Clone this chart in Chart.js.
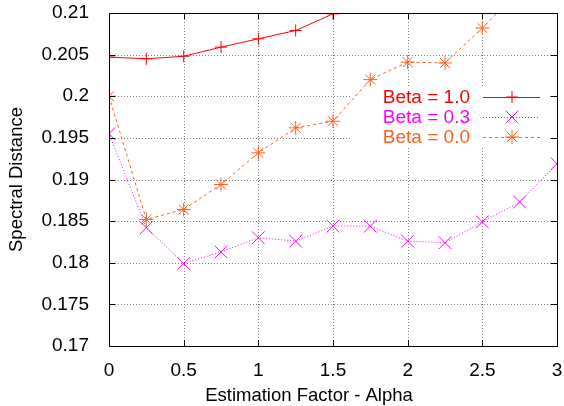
<!DOCTYPE html>
<html>
<head>
<meta charset="utf-8">
<script src="https://cdn.jsdelivr.net/npm/chart.js@4.4.0/dist/chart.umd.min.js"></script>
<style>
  html, body { margin: 0; padding: 0; background: #fff; }
  #wrap { width: 564px; height: 406px; }
</style>
</head>
<body>
<div id="wrap"><canvas id="specChart" width="564" height="406"></canvas></div>
<script>
// values
var alphaVals = [0, 0.25, 0.5, 0.75, 1, 1.25, 1.5, 1.75, 2, 2.25, 2.5, 2.75, 3]
var beta10 = [0.2047, 0.2045, 0.2048, 0.2059, 0.2069, 0.2079, 0.2099]
var beta03 = [0.1955, 0.1842, 0.1799, 0.1813, 0.1830, 0.1826, 0.1844, 0.1844, 0.1826, 0.1824, 0.1849, 0.1873, 0.1919]
var beta00 = [0.2000, 0.1852, 0.1864, 0.1894, 0.1932, 0.1962, 0.1970, 0.2020, 0.2041, 0.2040, 0.2082, 0.2128]
var seriesNames = ['Beta = 1.0', 'Beta = 0.3', 'Beta = 0.0']
var xTicks = [0, 0.5, 1, 1.5, 2, 2.5, 3]
var yTicks = [0.17, 0.175, 0.18, 0.185, 0.19, 0.195, 0.2, 0.205, 0.21]
var xTitle = 'Estimation Factor - Alpha'
var yTitle = 'Spectral Distance'

var FONT = '"Liberation Sans", Arial, Helvetica, sans-serif'

function pts(vals){
  var out = []
  for (var i = 0; i < vals.length; i++) out.push({x: alphaVals[i], y: vals[i]})
  return out
}

var styles = [
  {color: '#ff0000', dash: [], marker: 'cross', r: 6},
  {color: '#ff00ff', dash: [1, 2], marker: 'crossRot', r: 9},
  {color: '#ff6020', dash: [3, 3], marker: 'star', r: 7}
]
var allData = [beta10, beta03, beta00]

var datasets = []
for (var s = 0; s < 3; s++){
  datasets.push({
    label: seriesNames[s],
    data: pts(allData[s]),
    borderColor: styles[s].color,
    backgroundColor: styles[s].color,
    borderWidth: 1,
    borderDash: styles[s].dash,
    pointStyle: styles[s].marker,
    pointRadius: styles[s].r,
    pointBorderWidth: 1,
    pointBorderColor: styles[s].color,
    tension: 0,
    fill: false
  })
}

// dotted grid, white box behind the legend, frame, ticks, x title and legend
var gnuplotLook = {
  id: 'gnuplotLook',
  beforeDatasetsDraw: function(chart){
    var c = chart.ctx
    var a = chart.chartArea
    var xs = chart.scales.x, ys = chart.scales.y
    c.save()
    c.strokeStyle = '#808080'
    c.lineWidth = 1
    c.setLineDash([1, 2])
    c.beginPath()
    xTicks.forEach(function(t){
      var px = Math.round(xs.getPixelForValue(t)) + 0.5
      c.moveTo(px, a.top); c.lineTo(px, a.bottom)
    })
    yTicks.forEach(function(t){
      var py = Math.round(ys.getPixelForValue(t)) + 0.5
      c.moveTo(a.left, py); c.lineTo(a.right, py)
    })
    c.stroke()
    c.setLineDash([])
    c.fillStyle = '#fff'
    c.fillRect(350, 86, 198, 60)
    c.restore()
  },
  afterDraw: function(chart){
    var c = chart.ctx
    var a = chart.chartArea
    var xs = chart.scales.x, ys = chart.scales.y
    c.save()
    c.strokeStyle = '#000'
    c.lineWidth = 1
    c.setLineDash([])
    c.strokeRect(Math.round(a.left) + 0.5, Math.round(a.top) + 0.5, Math.round(a.right - a.left), Math.round(a.bottom - a.top))
    c.beginPath()
    xTicks.forEach(function(t){
      var px = Math.round(xs.getPixelForValue(t)) + 0.5
      c.moveTo(px, a.bottom); c.lineTo(px, a.bottom - 6)
      c.moveTo(px, a.top); c.lineTo(px, a.top + 6)
    })
    yTicks.forEach(function(t){
      var py = Math.round(ys.getPixelForValue(t)) + 0.5
      c.moveTo(a.left, py); c.lineTo(a.left + 6, py)
      c.moveTo(a.right, py); c.lineTo(a.right - 6, py)
    })
    c.stroke()
    // x title, a little left of the plot centre as in the original
    c.font = '18.5px ' + FONT
    c.fillStyle = '#000'
    c.textAlign = 'center'
    c.textBaseline = 'middle'
    c.fillText(xTitle, 309, 396)
    // legend
    c.font = '19px ' + FONT
    c.textAlign = 'right'
    for (var i = 0; i < 3; i++){
      var y = 97 + i * 20
      var st = styles[i]
      c.fillStyle = st.color
      c.fillText(seriesNames[i], 470, y + 1)
      c.strokeStyle = st.color
      c.lineWidth = 1
      c.setLineDash(st.dash)
      c.beginPath()
      c.moveTo(483, y + 0.5); c.lineTo(540, y + 0.5)
      c.stroke()
      c.setLineDash([])
      Chart.helpers.drawPoint(c, {pointStyle: st.marker, radius: st.r, borderWidth: 1}, 512, y)
    }
    c.restore()
  }
}

new Chart(document.getElementById('specChart'), {
  type: 'line',
  data: {datasets: datasets},
  options: {
    responsive: false,
    animation: false,
    layout: {autoPadding: false, padding: {top: 13, right: 7, left: 0, bottom: 0}},
    plugins: {legend: {display: false}, tooltip: {enabled: false}},
    scales: {
      x: {
        type: 'linear',
        min: 0, max: 3,
        afterFit: function(scale){ scale.height = 60; scale.paddingLeft = 0; scale.paddingRight = 0 },
        afterBuildTicks: function(scale){ scale.ticks = xTicks.map(function(v){ return {value: v} }) },
        ticks: {
          color: '#000', font: {family: FONT, size: 19}, padding: 5,
          maxRotation: 0, autoSkip: false,
          callback: function(v){ return String(+v.toFixed(2)) }
        },
        grid: {display: false},
        border: {display: false},
        title: {display: false}
      },
      y: {
        min: 0.17, max: 0.21,
        afterFit: function(scale){ scale.width = 109; scale.paddingTop = 0; scale.paddingBottom = 0 },
        afterBuildTicks: function(scale){ scale.ticks = yTicks.map(function(v){ return {value: v} }) },
        ticks: {
          color: '#000', font: {family: FONT, size: 19}, padding: 12,
          autoSkip: false,
          callback: function(v){ return String(+v.toFixed(3)) }
        },
        grid: {display: false},
        border: {display: false},
        title: {display: true, text: yTitle, color: '#000', font: {family: FONT, size: 18.5}, padding: {top: 6, bottom: 0}}
      }
    }
  },
  plugins: [gnuplotLook]
})
</script>
</body>
</html>
